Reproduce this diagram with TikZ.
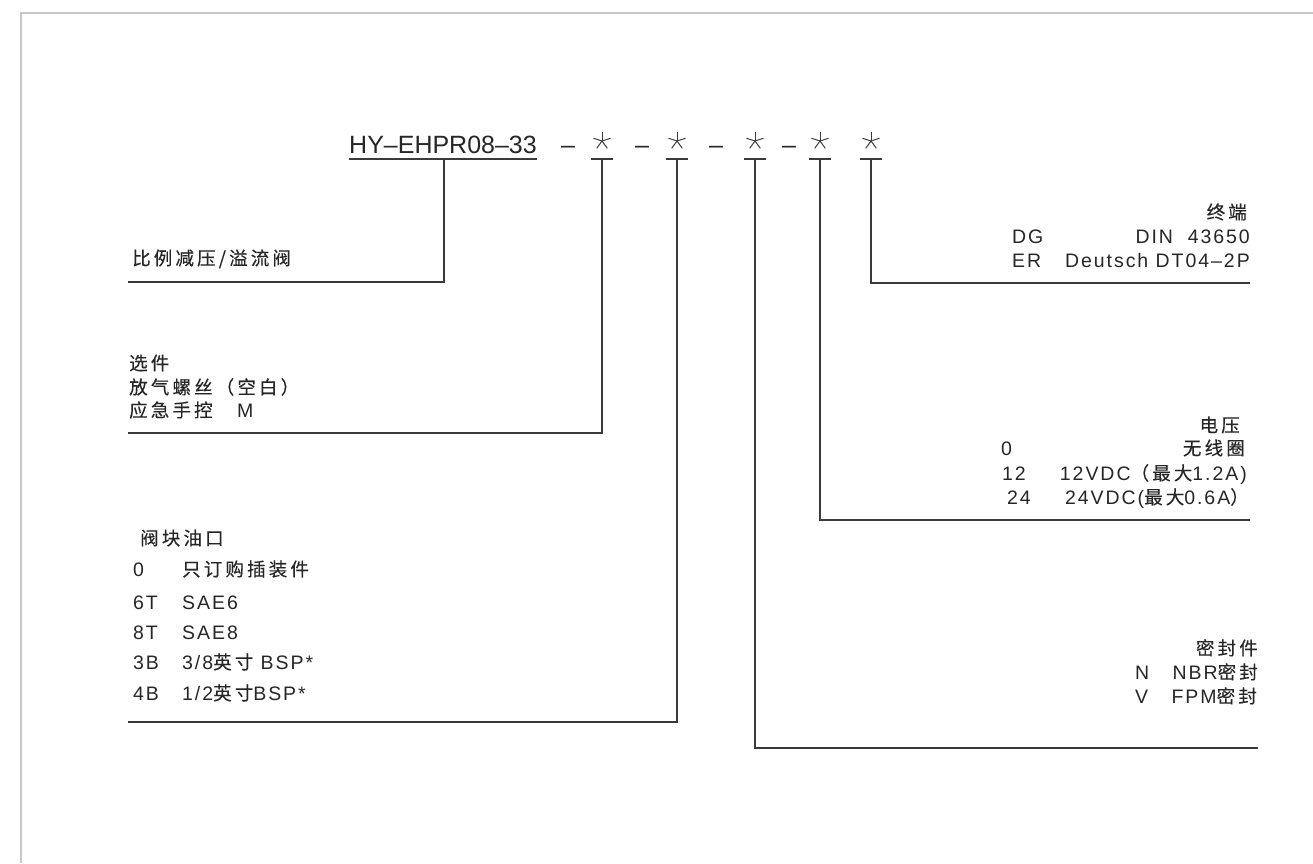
\documentclass[tikz,border=0pt]{standalone}
\usepackage{fontspec}
\setmainfont{Liberation Sans}
\newfontfamily\labfont{Liberation Sans}[LetterSpace=10]
\newfontfamily\zhfont{Noto Sans CJK SC}[LetterSpace=17, FakeBold=0.3]
\newcommand\zh[1]{{\fontsize{18.5}{22}\selectfont\zhfont #1}}
\definecolor{ink}{HTML}{262626}
\definecolor{rulec}{HTML}{3A3A3A}
\definecolor{framegray}{HTML}{C8C8C8}
\tikzset{
  lbl/.style={inner sep=0pt, text=ink, font=\fontsize{19.5}{22}\selectfont\labfont},
  lw/.style={lbl, anchor=base west},
  le/.style={lbl, anchor=base east},
  big/.style={inner sep=0pt, text=ink, anchor=base, font=\fontsize{25}{28}\selectfont},
  conn/.style={draw=rulec, line width=1.2pt},
  starbox/.style={minimum size=18pt, inner sep=0pt,
    path picture={\foreach \a in {90,18,162,234,306}
      \draw[rulec, line width=1pt] (path picture bounding box.center) -- ++(\a:9pt);}}
}
\begin{document}
\begin{tikzpicture}[x=1pt,y=-1pt]
\useasboundingbox (0,0) rectangle (1313,863);
\draw[framegray, line width=2pt] (21,863) -- (21,13) -- (1313,13);

% code line
\node[big, anchor=base west] (code) at (349,153) {HY–EHPR08–33};
\node[big] (d1) at (568,153) {–};
\node[big] (d2) at (642,153) {–};
\node[big] (d3) at (716,153) {–};
\node[big] (d4) at (789,153) {–};
\node[starbox] (s1) at (602,141) {};
\node[starbox] (s2) at (677,141) {};
\node[starbox] (s3) at (755,141) {};
\node[starbox] (s4) at (820,141) {};
\node[starbox] (s5) at (871,141) {};

\coordinate (u0) at (444,159);
\coordinate (t1) at (602,159);
\coordinate (t2) at (677,159);
\coordinate (t3) at (755,159);
\coordinate (t4) at (820,159);
\coordinate (t5) at (871,159);
\draw[conn] (code.west |- u0) -- (code.east |- u0);
\foreach \t in {t1,t2,t3,t4,t5}
  \draw[conn] ([xshift=-11pt]\t) -- ([xshift=11pt]\t);

% connector ends
\coordinate (e0) at (128,282);
\coordinate (e1) at (128,433);
\coordinate (e2) at (128,722);
\coordinate (e3) at (1258,748);
\coordinate (e4) at (1250,520);
\coordinate (e5) at (1250,283);
\draw[conn] (u0) |- (e0);
\draw[conn] (t1) |- (e1);
\draw[conn] (t2) |- (e2);
\draw[conn] (t3) |- (e3);
\draw[conn] (t4) |- (e4);
\draw[conn] (t5) |- (e5);

% left labels
\node[lw] (typ) at (132,265) {\zh{比例减压/溢流阀}};
\node[lw] (opt) at (129,370) {\zh{选件}};
\node[lw] (opt1) at (129,394) {\zh{放气螺丝（空白）}};
\node[lw] (opt2) at (129,417) {\zh{应急手控}};
\node[lw] (opt2m) at (237,417) {M};

\node[lw] (port) at (140,545) {\zh{阀块油口}};
\node[lw] (pc0) at (133,576) {0};
\node[lw] (pd0) at (182,576) {\zh{只订购插装件}};
\node[lw] (pc1) at (133,609) {6T};
\node[lw] (pd1) at (182,609) {SAE6};
\node[lw] (pc2) at (133,639) {8T};
\node[lw] (pd2) at (182,639) {SAE8};
\node[lw] (pc3) at (133,669) {3B};
\node[lw] (pd3) at (182,669) {3/8\zh{英寸} BSP*};
\node[lw] (pc4) at (133,700) {4B};
\node[lw] (pd4) at (182,700) {1/2\zh{英寸}BSP*};

% right labels
\node[le] (term) at (1247,219) {\zh{终端}};
\node[lw] (tc1) at (1012,243.5) {DG};
\node[le] (td1) at (1250,243.5) {DIN\ \ 43650};
\node[lw] (tc2) at (1012,267) {ER};
\node[le] (td2) at (1250,267) {Deutsch DT04–2P};

\node[le] (volt) at (1240,432) {\zh{电压}};
\node[lw] (vc0) at (1001,455) {0};
\node[le] (vd0) at (1245,455) {\zh{无线圈}};
\node[lw] (vc1) at (1002,480) {12};
\node[le] (vd1) at (1247,480) {12VDC\zh{（最大}1.2A)};
\node[lw] (vc2) at (1007,504) {24};
\node[le] (vd2) at (1249,504) {24VDC(\zh{最大}0.6A\zh{）}};

\node[le] (seal) at (1258,655) {\zh{密封件}};
\node[lw] (sc1) at (1135,679) {N};
\node[le] (sd1) at (1258,679) {NBR\zh{密封}};
\node[lw] (sc2) at (1135,703) {V};
\node[le] (sd2) at (1257,703) {FPM\zh{密封}};
\end{tikzpicture}
\end{document}
